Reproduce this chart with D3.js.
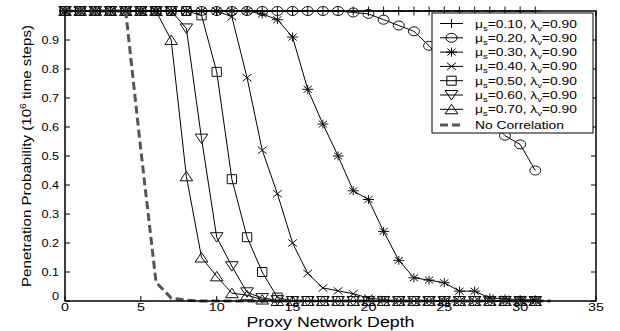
<!DOCTYPE html>
<html>
<head>
<meta charset="utf-8">
<script src="https://cdn.jsdelivr.net/npm/d3@7"></script>
<style>
  body { margin: 0; background: #fff; }
  svg { display: block; font-family: 'Liberation Sans', Arial, sans-serif; }
</style>
</head>
<body>
<div id="chart"></div>
<script>
// depth values (x) and penetration probability per series
const depths = d3.range(0, 32);
const depthsNoCorr = d3.range(0, 33);

const mu10 = depths.map(() => 1);
const mu20 = [1, 1, 1, 1, 1, 1, 1, 1, 1, 1, 1, 1, 1, 1, 1, 1, 1, 1, 1, 0.995, 0.99, 0.97, 0.95, 0.93, 0.88, 0.82, 0.76, 0.69, 0.63, 0.57, 0.54, 0.45];
const mu30 = [1, 1, 1, 1, 1, 1, 1, 1, 1, 1, 1, 1, 1, 0.99, 0.97, 0.91, 0.73, 0.61, 0.50, 0.38, 0.35, 0.24, 0.14, 0.08, 0.072, 0.063, 0.034, 0.034, 0.01, 0.007, 0.005, 0.004];
const mu40 = [1, 1, 1, 1, 1, 1, 1, 1, 1, 1, 1, 0.98, 0.77, 0.52, 0.37, 0.20, 0.095, 0.045, 0.035, 0.025, 0.01, 0.005, 0, 0, 0, 0, 0, 0, 0, 0, 0, 0];
const mu50 = [1, 1, 1, 1, 1, 1, 1, 1, 1, 0.985, 0.79, 0.42, 0.22, 0.10, 0.012, 0, 0, 0, 0, 0, 0, 0, 0, 0, 0, 0, 0, 0, 0, 0, 0, 0];
const mu60 = [1, 1, 1, 1, 1, 1, 1, 1, 0.94, 0.56, 0.22, 0.12, 0.03, 0.01, 0.003, 0, 0, 0, 0, 0, 0, 0, 0, 0, 0, 0, 0, 0, 0, 0, 0, 0];
const mu70 = [1, 1, 1, 1, 1, 1, 1, 0.90, 0.43, 0.15, 0.085, 0.027, 0.02, 0.005, 0, 0, 0, 0, 0, 0, 0, 0, 0, 0, 0, 0, 0, 0, 0, 0, 0, 0];
const noCorr = [1, 1, 1, 1, 1, 0.52, 0.065, 0.01, 0.003, 0, 0, 0, 0, 0, 0, 0, 0, 0, 0, 0, 0, 0, 0, 0, 0, 0, 0, 0, 0, 0, 0, 0, 0];

const muLabels = ['0.10', '0.20', '0.30', '0.40', '0.50', '0.60', '0.70'];
const lambdaLabel = '0.90';
const markerTypes = ['plus', 'circle', 'star', 'cross', 'square', 'tridown', 'triup'];
const xTicks = [0, 5, 10, 15, 20, 25, 30, 35];
const yTicks = [0, 0.1, 0.2, 0.3, 0.4, 0.5, 0.6, 0.7, 0.8, 0.9];

const seriesValues = [mu10, mu20, mu30, mu40, mu50, mu60, mu70];

const width = 620;
const height = 331;
const plotLeft = 65;
const plotRight = 596;
const plotTop = 11;
const plotBottom = 301;

const svg = d3.select('#chart').append('svg')
  .attr('width', width)
  .attr('height', height);

const x = d3.scaleLinear().domain([0, 35]).range([plotLeft, plotRight]);
const y = d3.scaleLinear().domain([0, 1]).range([plotBottom, plotTop]);

// marker paths (slightly wider than tall, like the reference)
function markerPath(type) {
  const w = 5.5;
  const h = 4.5;
  switch (type) {
    case 'plus':
      return `M${-w},0H${w}M0,${-h}V${h}`;
    case 'circle':
      return `M${-w},0A${w},${h} 0 1,0 ${w},0A${w},${h} 0 1,0 ${-w},0Z`;
    case 'star':
      return `M${-w},0H${w}M0,${-h}V${h}M${-w * 0.75},${-h * 0.75}L${w * 0.75},${h * 0.75}M${-w * 0.75},${h * 0.75}L${w * 0.75},${-h * 0.75}`;
    case 'cross':
      return `M${-w * 0.8},${-h * 0.8}L${w * 0.8},${h * 0.8}M${-w * 0.8},${h * 0.8}L${w * 0.8},${-h * 0.8}`;
    case 'square':
      return `M${-w * 0.85},${-h}H${w * 0.85}V${h}H${-w * 0.85}Z`;
    case 'tridown':
      return `M${-w * 1.15},${-h}H${w * 1.15}L0,${h * 1.1}Z`;
    case 'triup':
      return `M${-w * 1.15},${h}H${w * 1.15}L0,${-h * 1.1}Z`;
    default:
      return '';
  }
}

// stretched text helper (reference text is wider than it is tall)
function stretchedText(g, tx, ty, str, size, anchor, sx) {
  return g.append('text')
    .attr('transform', `translate(${tx},${ty}) scale(${sx},1)`)
    .attr('text-anchor', anchor)
    .style('font-size', `${size}px`)
    .attr('fill', '#000')
    .text(str);
}

const line = d3.line()
  .x((d) => x(d[0]))
  .y((d) => y(d[1]));

const plot = svg.append('g');

seriesValues.forEach((vals, i) => {
  const pts = depths.map((d, j) => [d, vals[j]]);
  plot.append('path')
    .attr('d', line(pts))
    .attr('fill', 'none')
    .attr('stroke', '#000')
    .attr('stroke-width', 1);
  plot.append('g')
    .selectAll('path')
    .data(pts)
    .enter()
    .append('path')
    .attr('transform', (d) => `translate(${x(d[0])},${y(d[1])})`)
    .attr('d', markerPath(markerTypes[i]))
    .attr('fill', 'none')
    .attr('stroke', '#111')
    .attr('stroke-width', 1);
});

plot.append('path')
  .attr('d', line(depthsNoCorr.map((d, j) => [d, noCorr[j]])))
  .attr('fill', 'none')
  .attr('stroke', '#555')
  .attr('stroke-width', 3)
  .attr('stroke-dasharray', '8,4');

// axes box with inward ticks
const axes = svg.append('g');
axes.append('rect')
  .attr('x', plotLeft)
  .attr('y', plotTop)
  .attr('width', plotRight - plotLeft)
  .attr('height', plotBottom - plotTop)
  .attr('fill', 'none')
  .attr('stroke', '#000')
  .attr('stroke-width', 1.5);

xTicks.forEach((t) => {
  axes.append('line')
    .attr('x1', x(t)).attr('x2', x(t))
    .attr('y1', plotBottom).attr('y2', plotBottom - 5)
    .attr('stroke', '#000');
  axes.append('line')
    .attr('x1', x(t)).attr('x2', x(t))
    .attr('y1', plotTop).attr('y2', plotTop + 5)
    .attr('stroke', '#000');
  stretchedText(axes, x(t), 311, String(t), 11, 'middle', 1.3);
});

yTicks.forEach((t) => {
  axes.append('line')
    .attr('x1', plotLeft).attr('x2', plotLeft + 5)
    .attr('y1', y(t)).attr('y2', y(t))
    .attr('stroke', '#000');
  axes.append('line')
    .attr('x1', plotRight).attr('x2', plotRight - 5)
    .attr('y1', y(t)).attr('y2', y(t))
    .attr('stroke', '#000');
  const ty = t === 0 ? y(t) - 1 : y(t) + 4;
  stretchedText(axes, 59, ty, t === 0 ? '0' : String(t), 11.5, 'end', 1.1);
});

// axis labels
svg.append('text')
  .attr('x', (plotLeft + plotRight) / 2)
  .attr('y', 327)
  .attr('text-anchor', 'middle')
  .attr('textLength', 168)
  .attr('lengthAdjust', 'spacingAndGlyphs')
  .style('font-size', '14px')
  .text('Proxy Network Depth');

const yLab = svg.append('text')
  .attr('transform', `translate(31,${(plotTop + plotBottom) / 2}) rotate(-90)`)
  .attr('text-anchor', 'middle')
  .attr('textLength', 262)
  .attr('lengthAdjust', 'spacingAndGlyphs')
  .style('font-size', '13px');
yLab.append('tspan').text('Penetration Probability (10');
yLab.append('tspan').attr('dy', -5).style('font-size', '9px').text('6');
yLab.append('tspan').attr('dy', 5).text(' time steps)');

// legend
const legend = svg.append('g');
legend.append('rect')
  .attr('x', 432)
  .attr('y', 13)
  .attr('width', 161)
  .attr('height', 120)
  .attr('fill', '#fff')
  .attr('stroke', '#000')
  .attr('stroke-width', 1);

const rowY = (i) => 23.5 + i * 14.3;
muLabels.forEach((m, i) => {
  const ry = rowY(i);
  legend.append('line')
    .attr('x1', 440).attr('x2', 463)
    .attr('y1', ry).attr('y2', ry)
    .attr('stroke', '#000');
  legend.append('path')
    .attr('transform', `translate(451.5,${ry})`)
    .attr('d', markerPath(markerTypes[i]))
    .attr('fill', 'none')
    .attr('stroke', '#000');
  const t = legend.append('text')
    .attr('transform', `translate(475,${ry + 4}) scale(1.2,1)`)
    .style('font-size', '11.5px');
  t.append('tspan').text('\u03bc');
  t.append('tspan').attr('dy', 3).style('font-size', '8px').text('s');
  t.append('tspan').attr('dy', -3).text(`=${m}, \u03bb`);
  t.append('tspan').attr('dy', 3).style('font-size', '8px').text('v');
  t.append('tspan').attr('dy', -3).text(`=${lambdaLabel}`);
});

const lastY = rowY(7) + 1.5;
legend.append('line')
  .attr('x1', 440).attr('x2', 463)
  .attr('y1', lastY).attr('y2', lastY)
  .attr('stroke', '#555')
  .attr('stroke-width', 3)
  .attr('stroke-dasharray', '8,4');
stretchedText(legend, 475, lastY + 4, 'No Correlation', 11.5, 'start', 1.2);
</script>
</body>
</html>
